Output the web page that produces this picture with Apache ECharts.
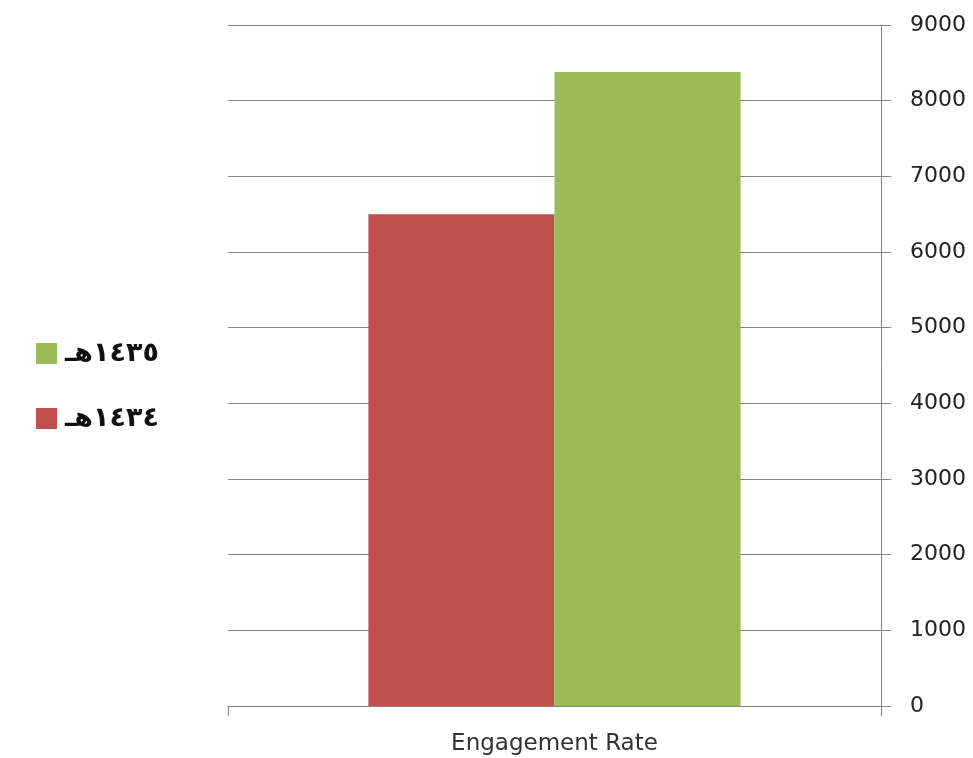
<!DOCTYPE html>
<html>
<head>
<meta charset="utf-8">
<script src="https://cdn.jsdelivr.net/npm/echarts@6/dist/echarts.min.js"></script>
<style>
html,body{margin:0;padding:0;background:#fff;}
#chart{width:973px;height:758px;}
</style>
</head>
<body>
<div id="chart"></div>
<script>
var categories = ['Engagement Rate'];
var seriesNames = ['١٤٣٤هـ', '١٤٣٥هـ'];
var values1434 = [6500];
var values1435 = [8380];
var yTicks = [0, 1000, 2000, 3000, 4000, 5000, 6000, 7000, 8000, 9000];

var chart = echarts.init(document.getElementById('chart'), null, {renderer: 'canvas'});
var gridColor = '#868686';
chart.setOption({
  backgroundColor: '#ffffff',
  animation: false,
  legend: {
    orient: 'vertical',
    left: 36,
    top: 340,
    padding: 0,
    itemWidth: 21,
    itemHeight: 21,
    itemGap: 38,
    icon: 'rect',
    data: [seriesNames[1], seriesNames[0]],
    textStyle: {fontFamily: 'DejaVu Sans', fontSize: 27, fontWeight: 'bold', color: '#111', lineHeight: 21, padding: [0, 0, 0, 3]}
  },
  grid: {left: 228, right: 92, top: 25, bottom: 52, containLabel: false},
  xAxis: {
    type: 'category',
    data: categories,
    boundaryGap: true,
    axisLine: {show: true, lineStyle: {color: gridColor, width: 1}},
    axisTick: {show: true, length: 10, lineStyle: {color: gridColor}},
    axisLabel: {margin: 27, fontFamily: 'DejaVu Sans', fontSize: 23, color: '#333'}
  },
  yAxis: {
    type: 'value',
    position: 'right',
    min: yTicks[0],
    max: yTicks[yTicks.length - 1],
    interval: yTicks[1] - yTicks[0],
    axisLine: {show: true, lineStyle: {color: gridColor, width: 1}},
    axisTick: {show: true, length: 10, lineStyle: {color: gridColor}},
    splitLine: {show: true, lineStyle: {color: gridColor, width: 1}},
    axisLabel: {margin: 29, fontFamily: 'DejaVu Sans', fontSize: 22, color: '#222', formatter: function (v) { return String(v); }}
  },
  series: [
    {name: seriesNames[0], type: 'bar', data: values1434, barGap: '0%', barCategoryGap: '43%', itemStyle: {color: '#C0504D'}},
    {name: seriesNames[1], type: 'bar', data: values1435, barGap: '0%', barCategoryGap: '43%', itemStyle: {color: '#9BBB59'}}
  ]
});
</script>
</body>
</html>
